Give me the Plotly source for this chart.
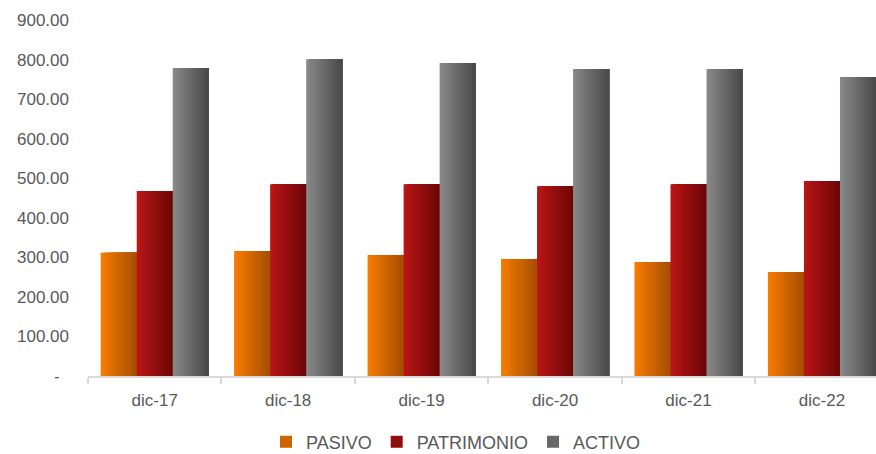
import plotly.graph_objects as go

categories = ["dic-17", "dic-18", "dic-19", "dic-20", "dic-21", "dic-22"]
pasivo = [311.7, 316.0, 306.0, 296.0, 288.0, 263.0]
patrimonio = [467.6, 485.0, 485.0, 480.0, 485.0, 493.0]
activo = [778.6, 801.0, 791.0, 776.0, 776.0, 756.0]

y_tickvals = [0, 100, 200, 300, 400, 500, 600, 700, 800, 900]
y_ticktext = ["-\u00a0\u00a0", "100.00", "200.00", "300.00", "400.00", "500.00",
              "600.00", "700.00", "800.00", "900.00"]

series = [
    ("PASIVO", pasivo, (246, 124, 0), (168, 78, 0)),
    ("PATRIMONIO", patrimonio, (184, 22, 22), (110, 6, 6)),
    ("ACTIVO", activo, (136, 136, 136), (74, 74, 74)),
]

bar_w = 0.27
group_w = bar_w * len(series)
n_slices = 20

fig = go.Figure()
for si, (name, vals, c0, c1) in enumerate(series):
    base_off = -group_w / 2 + si * bar_w
    step = bar_w / n_slices
    for k in range(n_slices):
        t = k / (n_slices - 1)
        col = "rgb(%d,%d,%d)" % tuple(round(a + (b - a) * t) for a, b in zip(c0, c1))
        mid = k == n_slices // 2
        fig.add_trace(go.Bar(
            x=categories, y=vals, name=name,
            offset=base_off + k * step,
            width=bar_w - k * step,
            marker=dict(color=col, line=dict(width=0)),
            legendgroup=name,
            showlegend=mid,
            hoverinfo=None if mid else "skip",
        ))

fig.update_layout(
    width=876, height=454,
    margin=dict(l=88, r=0, t=20, b=78, autoexpand=False),
    barmode="overlay",
    plot_bgcolor="white", paper_bgcolor="white",
    font=dict(family="Liberation Sans, Arial, sans-serif", size=17, color="#595959"),
    legend=dict(orientation="h", x=0.467, xanchor="center",
                yref="container", y=12 / 454, yanchor="middle",
                font=dict(size=18, color="#595959"), itemwidth=30,
                traceorder="normal"),
    xaxis=dict(
        type="category", range=[-0.5, 5.405],
        showline=True, linecolor="#d9d9d9", linewidth=1.5,
        ticks="outside", tickson="boundaries", ticklen=6, tickcolor="#d9d9d9",
        tickwidth=1.5, showgrid=False, ticklabelstandoff=8,
        tickfont=dict(size=17, color="#595959"),
    ),
    yaxis=dict(
        range=[0, 900], tickvals=y_tickvals, ticktext=y_ticktext,
        showgrid=False, zeroline=False, showline=False, ticks="",
        ticklabelstandoff=18, tickfont=dict(size=17, color="#595959"),
    ),
)

fig.write_html("out.html")
